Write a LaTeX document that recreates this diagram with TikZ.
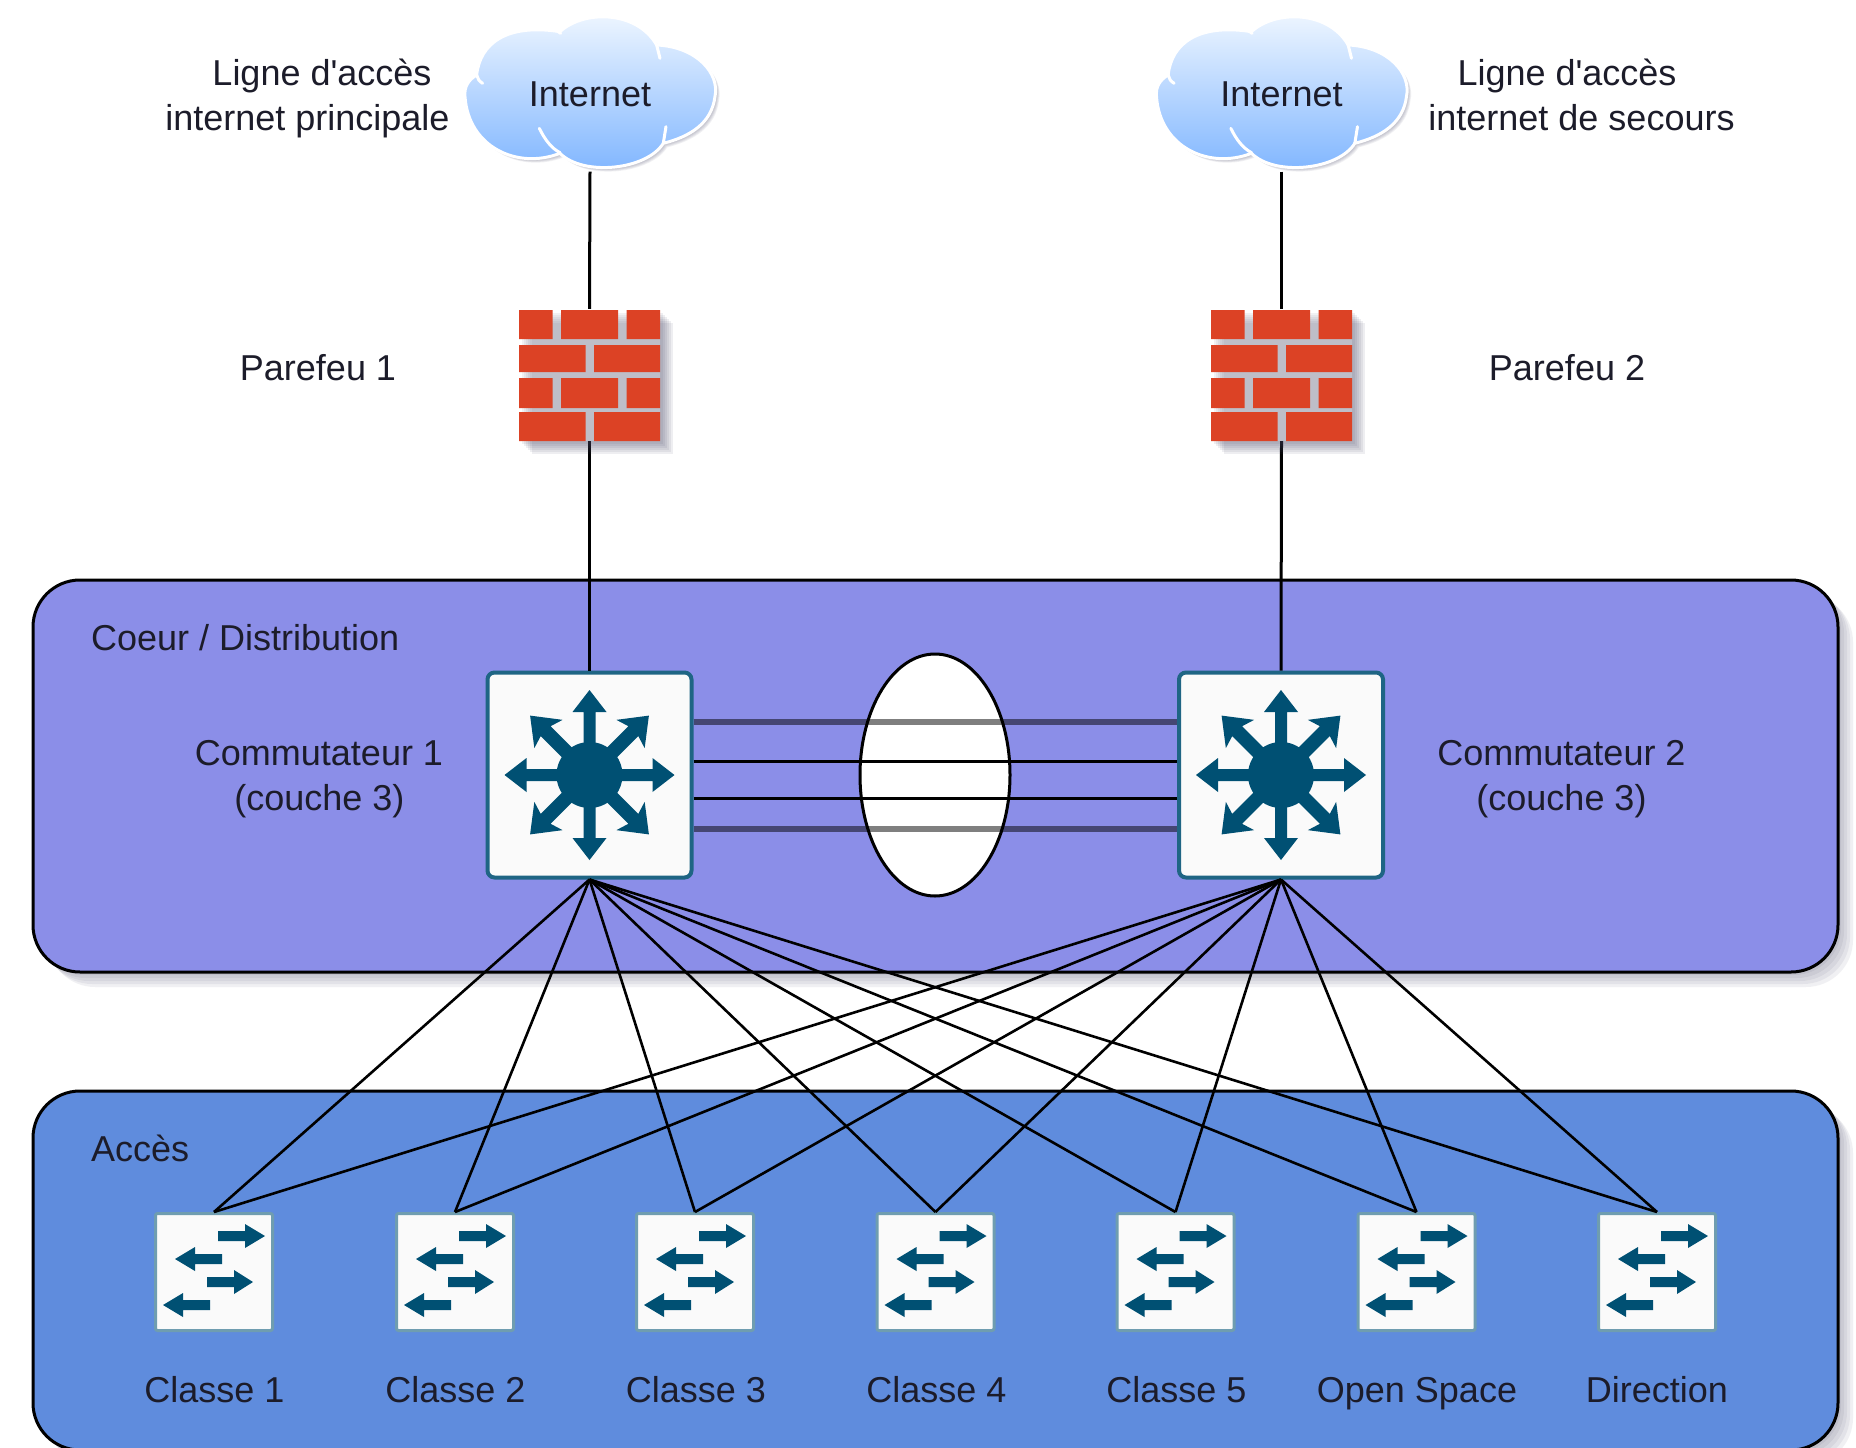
\documentclass[tikz,border=0pt]{standalone}
\usepackage{fontspec}
\setmainfont{Liberation Sans}
\newfontfamily\lblfont{Liberation Sans}
\usetikzlibrary{shapes.geometric}
\definecolor{corefill}{HTML}{8B8EE8}
\definecolor{accfill}{HTML}{5F8CDD}
\definecolor{icon}{HTML}{005073}
\definecolor{iconedge}{HTML}{6F9DB0}
\definecolor{brick}{HTML}{DC4225}
\definecolor{txt}{HTML}{1C1C2A}
\definecolor{shadowc}{HTML}{4A4A6A}
\definecolor{cloudtop}{HTML}{F0F7FF}
\definecolor{cloudbot}{HTML}{7DB4FF}
\tikzset{
  panel/.style={draw=black,line width=3pt,rounded corners=47pt},
  panelshadow/.style={fill=shadowc,rounded corners=47pt,opacity=.08},
  lbl/.style={font=\lblfont\fontsize{36}{46}\selectfont,text=txt,align=center,inner sep=0pt,anchor=base},
  lblleft/.style={lbl,anchor=base west},
  link/.style={draw=black,line width=3pt},
  fatlink/.style={draw=black,draw opacity=.5,line width=6pt},
  coresw/.style={draw=icon!88!white,fill=white!98!black,line width=4pt,rounded corners=7pt,minimum width=204pt,minimum height=205pt,inner sep=0pt},
  accsw/.style={draw=iconedge,fill=white!98!black,line width=3pt,rounded corners=2pt,minimum width=117pt,minimum height=117pt,inner sep=0pt},
  fwall/.style={minimum width=141pt,minimum height=132pt,inner sep=0pt},
  cloudbox/.style={font=\lblfont\fontsize{36}{46}\selectfont,text=txt,inner sep=0pt,minimum width=250pt,minimum height=154pt},
  lag/.style={draw=black,fill=white,line width=3pt,ellipse,minimum width=150pt,minimum height=242pt,inner sep=0pt}
}
% cloud outline in 1/3-pixel units, origin at the crop corner
\newcommand{\cloudoutline}{(75,290) .. controls (72,260) and (85,240) .. (110,225)
  .. controls (120,130) and (200,70) .. (360,95)
  .. controls (430,30) and (590,30) .. (650,135)
  .. controls (770,140) and (840,220) .. (825,290)
  .. controls (815,370) and (750,410) .. (670,430)
  .. controls (620,510) and (430,530) .. (360,460)
  .. controls (230,510) and (85,440) .. (75,290) -- cycle}
\newcommand{\drawcloud}[1]{%
  \begin{scope}[shift={(#1,0)},x=.3333pt,y=-.3333pt]
    \foreach \d in {6,12,18,24,30,36}{
      \fill[shadowc,opacity=.08,shift={(\d/3,\d/3)}] \cloudoutline;}
    \path[top color=cloudtop,bottom color=cloudbot,draw=white,line width=3pt] \cloudoutline;
    \draw[white,line width=3pt,line cap=round]
      (110,225) .. controls (112,235) and (118,245) .. (128,250)
      (340,85) -- (362,100)
      (650,135) -- (660,175)
      (298,385) .. controls (315,420) and (335,445) .. (360,458)
      (678,380) -- (670,430);
  \end{scope}}
% firewall bricks around a centre
\newcommand{\drawbricks}[2]{%
  \begin{scope}[shift={(#1,#2)}]
    \foreach \o in {3,5,7,9,11,13}{
      \fill[shadowc,opacity=.09] (-70.5+\o,-65+\o) rectangle (70.5+\o,66+\o);}
    \fill[white,opacity=.2] (-70.5,-65) rectangle (70.5,66);
    \fill[brick]
      (-70.5,-65) rectangle (-37,-36) (-28.5,-65) rectangle (28.5,-36) (37,-65) rectangle (70.5,-36)
      (-70.5,-30) rectangle (-4,-3) (4.5,-30) rectangle (70.5,-3)
      (-70.5,3) rectangle (-37,33) (-28.5,3) rectangle (28.5,33) (37,3) rectangle (70.5,33)
      (-70.5,37) rectangle (-4,66) (4.5,37) rectangle (70.5,66);
  \end{scope}}
% layer-3 switch glyph
\newcommand{\drawcoreicon}[2]{%
  \begin{scope}[shift={(#1,#2)}]
    \fill[icon] (0,0) circle (33pt);
    \foreach \a in {0,90,180,270}{
      \fill[icon,rotate=\a] (25,-6) -- (63,-6) -- (63,-17) -- (85,0) -- (63,17) -- (63,6) -- (25,6) -- cycle;}
    \foreach \a in {45,135,225,315}{
      \fill[icon,rotate=\a] (25,-7) -- (62,-7) -- (58,-20) -- (84,0) -- (58,20) -- (62,7) -- (25,7) -- cycle;}
  \end{scope}}
% access switch glyph
\newcommand{\drawaccicon}[2]{%
  \begin{scope}[shift={(#1,#2)}]
    \fill[icon]
      (4,-41) -- (31,-41) -- (31,-48) -- (51,-36) -- (31,-24) -- (31,-31) -- (4,-31) -- cycle
      (8,-18) -- (-19,-18) -- (-19,-25) -- (-39,-13) -- (-19,-1) -- (-19,-8) -- (8,-8) -- cycle
      (-7,5) -- (20,5) -- (20,-2) -- (39,10) -- (20,22) -- (20,15) -- (-7,15) -- cycle
      (-4,28) -- (-31,28) -- (-31,21) -- (-51,33) -- (-31,45) -- (-31,38) -- (-4,38) -- cycle;
  \end{scope}}
\begin{document}
\begin{tikzpicture}[x=1pt,y=-1pt]
\useasboundingbox (0,0) rectangle (1856,1448);
\fill[white] (0,0) rectangle (1856,1448);
% panel shadows and panels
\foreach \o in {3,6,9,12,15}{
  \fill[panelshadow] (33+\o,580+\o) rectangle (1838+\o,972+\o);
  \fill[panelshadow] (33+\o,1091+\o) rectangle (1838+\o,1450+\o);
}
\path[panel,fill=corefill] (33,580) rectangle (1838,972);
\path[panel,fill=accfill] (33,1091) rectangle (1838,1450);
\node[lblleft] (tcore) at (91,650) {Coeur / Distribution};
\node[lblleft] (tacc) at (91,1161) {Accès};
% clouds
\drawcloud{440}
\drawcloud{1131.5}
\node[cloudbox] (cl1) at (590,94.5) {Internet};
\node[cloudbox] (cl2) at (1281.5,94.5) {Internet};
% nodes
\node[fwall] (fw1) at (589.5,375) {};
\node[fwall] (fw2) at (1281.5,375) {};
\node[coresw] (sw1) at (589.5,775) {};
\node[coresw] (sw2) at (1281,775) {};
\node[lag] (lagg) at (935,775) {};
\foreach \n/\x in {1/214,2/455,3/695,4/935.5,5/1175.5,6/1416.5,7/1657}{
  \node[accsw] (a\n) at (\x,1272) {};
  \drawaccicon{\x}{1272}
}
% connectors
\draw[link] (cl1.south) -- (fw1.north);
\draw[link] (fw1.south) -- (sw1.north);
\draw[link] (cl2.south) -- (fw2.north);
\draw[link] (fw2.south) -- (sw2.north);
\drawbricks{589.5}{375}
\drawbricks{1281.5}{375}
\draw[fatlink] ([yshift=53pt]sw1.east) -- ([yshift=53pt]sw2.west);
\draw[link] ([yshift=14pt]sw1.east) -- ([yshift=14pt]sw2.west);
\draw[link] ([yshift=-23pt]sw1.east) -- ([yshift=-23pt]sw2.west);
\draw[fatlink] ([yshift=-54pt]sw1.east) -- ([yshift=-54pt]sw2.west);
\foreach \n in {1,...,7}{
  \draw[link,line width=2.6pt] (sw1.south) -- (a\n.north);
  \draw[link,line width=2.6pt] (sw2.south) -- (a\n.north);
}
\drawcoreicon{589.5}{775}
\drawcoreicon{1281}{775}
% labels
\node[lbl] (l1) at (322,85) {Ligne d'accès};
\node[lbl] (l2) at (307.5,130) {internet principale};
\node[lbl] (r1) at (1567,85) {Ligne d'accès};
\node[lbl] (r2) at (1581.5,130) {internet de secours};
\node[lbl] (p1) at (318,380) {Parefeu 1};
\node[lbl] (p2) at (1567,380) {Parefeu 2};
\node[lbl] (c1) at (319,765) {Commutateur 1};
\node[lbl] (c1b) at (319.5,810) {(couche 3)};
\node[lbl] (c2) at (1561.5,765) {Commutateur 2};
\node[lbl] (c2b) at (1561.5,810) {(couche 3)};
\node[lbl] (n1) at (214.5,1402) {Classe 1};
\node[lbl] (n2) at (455.5,1402) {Classe 2};
\node[lbl] (n3) at (696,1402) {Classe 3};
\node[lbl] (n4) at (936.5,1402) {Classe 4};
\node[lbl] (n5) at (1176.5,1402) {Classe 5};
\node[lbl] (n6) at (1417,1402) {Open Space};
\node[lbl] (n7) at (1657,1402) {Direction};
\end{tikzpicture}
\end{document}
